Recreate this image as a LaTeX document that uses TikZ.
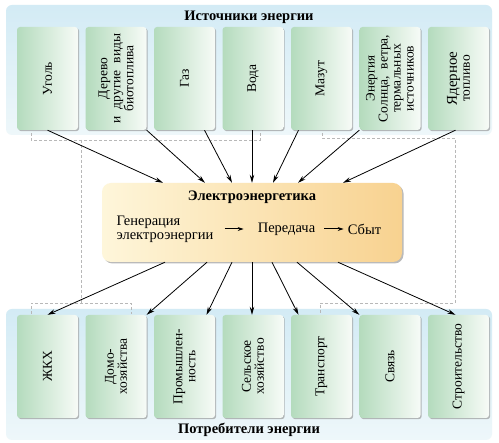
\documentclass[tikz,border=0pt]{standalone}
\usepackage{fontspec}
\setmainfont{Liberation Serif}
\usetikzlibrary{shadows,arrows.meta,calc}
\definecolor{paneltop}{HTML}{D3EBF5}
\definecolor{panelbot}{HTML}{EEF7FA}
\definecolor{boxgreen}{HTML}{B4DBBD}
\definecolor{boxwhite}{HTML}{F7FBF7}
\definecolor{centerl}{HTML}{FEF6DA}
\definecolor{centerr}{HTML}{F8D290}
\definecolor{dashgray}{HTML}{B8B8B8}
\newcommand{\wsp}{\hspace{7pt}}
\tikzset{
  panel/.style={rounded corners=6pt, top color=paneltop, bottom color=panelbot, draw=none},
  greenbox/.style={rectangle, rounded corners=3pt, minimum width=61pt, minimum height=103pt,
    left color=boxgreen, right color=boxwhite, draw=none,
    drop shadow={shadow xshift=1.2pt, shadow yshift=-1.2pt, fill=black!45, opacity=0.6}},
  boxtext/.style={rotate=90, align=center, font=\fontsize{13.5}{13}\selectfont, inner sep=0pt},
  centerbox/.style={rectangle, rounded corners=9pt, minimum width=300pt, minimum height=79pt,
    left color=centerl, right color=centerr, draw=none,
    drop shadow={shadow xshift=1.5pt, shadow yshift=-1.5pt, fill=black!45, opacity=0.6}},
  title/.style={font=\fontsize{14.5}{16}\selectfont\bfseries},
  ctext/.style={font=\fontsize{14.5}{14}\selectfont, align=left, inner sep=0pt},
  conn/.style={line width=0.8pt, -{Stealth[length=8pt,width=4.5pt]}},
  smallarrow/.style={line width=1pt, -{Stealth[length=6pt,width=4pt]}},
  dline/.style={dashgray, line width=0.7pt, dash pattern=on 3pt off 2pt}
}
\begin{document}
\begin{tikzpicture}[x=1pt,y=-1pt]
\useasboundingbox (0,0) rectangle (499,443);
\fill[white] (0,0) rectangle (499,443);
% panels
\path[panel] (6,5) rectangle (492,135);
\path[panel] (6,309) rectangle (492,440);
\node[title] (srctitle) at (249,17) {Источники энергии};
\node[title] (usetitle) at (249,430) {Потребители энергии};
% dashed grouping lines
\draw[dline] (31,133) -- (31,140) -- (260,140) -- (260,133);
\draw[dline] (81,140) -- (81,303);
\draw[dline] (322,133) -- (322,138) -- (455,138) -- (455,303) -- (320,303) -- (320,314);
\draw[dline] (31,314) -- (31,303) -- (131,303) -- (131,314);
% source boxes
\foreach \i/\x/\t in {1/47.5/{Уголь},
  2/116/{Дерево\\и\wsp другие\wsp виды\\биотоплива},
  3/184.5/{Газ},
  4/253/{Вода},
  5/321.5/{Мазут},
  6/390/{\fontsize{13}{12.5}\selectfont Энергия\\Солнца,\wsp ветра,\\термальных\\источников},
  7/458.5/{{\fontsize{15}{13}\selectfont Ядерное}\\топливо}}{
  \node[greenbox] (t\i) at (\x,78.5) {};
  \node[boxtext] (tt\i) at (t\i) {\t};
}
% consumer boxes
\foreach \i/\x/\t in {1/47.5/{ЖКХ},
  2/116/{Домо-\\хозяйства},
  3/184.5/{Промышлен-\\ность},
  4/253/{Сельское\\хозяйство},
  5/321.5/{Транспорт},
  6/390/{Связь},
  7/458.5/{Строительство}}{
  \node[greenbox] (b\i) at (\x,366.5) {};
  \node[boxtext] (bt\i) at (b\i) {\t};
}
% center box
\node[centerbox] (c) at (252,222.5) {};
\node[title] (ctitle) at (252,197) {Электроэнергетика};
\node[ctext] (gen) at (165,229) {Генерация\\электроэнергии};
\node[ctext] (per) at (286.5,229) {Передача};
\node[ctext] (sbyt) at (364.5,229) {Сбыт};
\draw[smallarrow, shorten <=11pt, shorten >=14pt] (gen.east) -- (per.west);
\draw[smallarrow, shorten <=9pt, shorten >=4pt] (per.east) -- (sbyt.west);
% arrows from sources
\draw[conn] (t1.south) -- ($(c.north)+(-89,0)$);
\draw[conn] (t2.south east) -- ($(c.north)+(-47,0)$);
\draw[conn] ($(t3.south)+(20,0)$) -- ($(c.north)+(-20,0)$);
\draw[conn] ($(t4.south)+(-1,0)$) -- (c.north);
\draw[conn] ($(t5.south)+(-23,0)$) -- ($(c.north)+(21,0)$);
\draw[conn] (t6.south west) -- ($(c.north)+(46,0)$);
\draw[conn] ($(t7.south)+(-3,0)$) -- ($(c.north)+(91,0)$);
% arrows to consumers
\draw[conn] ($(c.south)+(-87,0)$) -- (b1.north);
\draw[conn] ($(c.south)+(-45,0)$) -- (b2.north east);
\draw[conn] ($(c.south)+(-20,0)$) -- ($(b3.north)+(22,0)$);
\draw[conn] (c.south) -- ($(b4.north)+(-1,0)$);
\draw[conn] ($(c.south)+(20,0)$) -- ($(b5.north)+(-23,0)$);
\draw[conn] ($(c.south)+(45,0)$) -- (b6.north west);
\draw[conn] ($(c.south)+(86,0)$) -- ($(b7.north)+(-3,0)$);
\end{tikzpicture}
\end{document}
